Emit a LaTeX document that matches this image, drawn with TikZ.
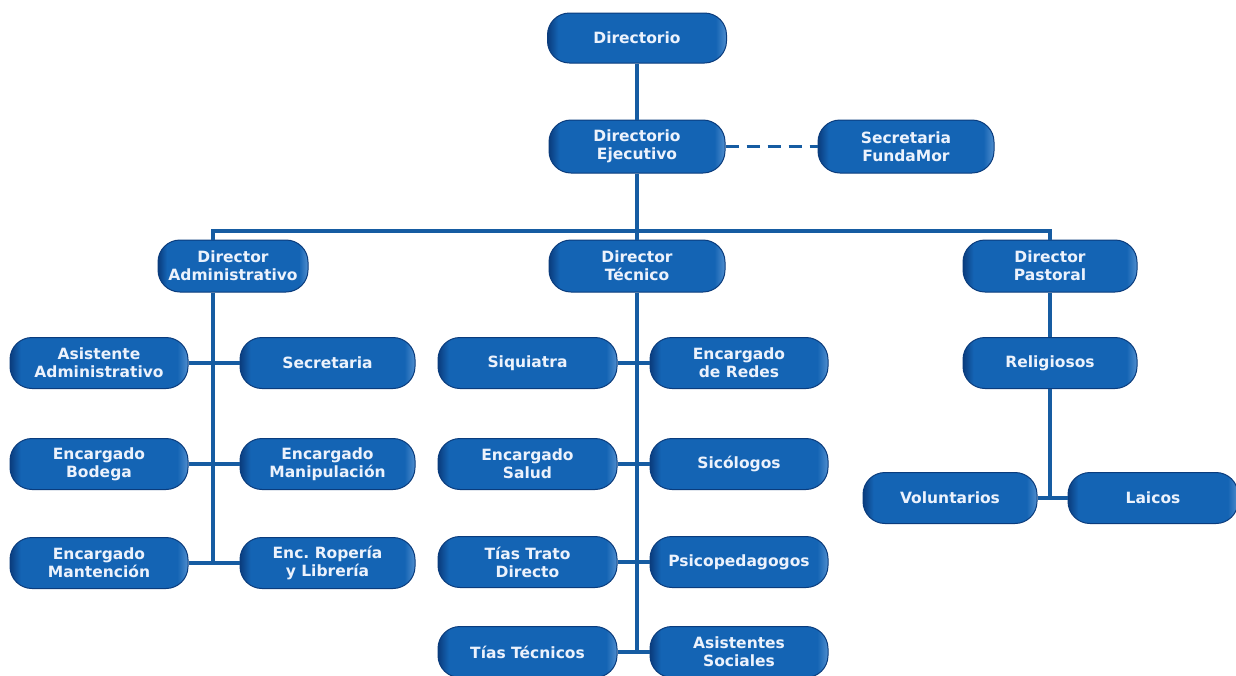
\documentclass[tikz,border=0pt]{standalone}
\usepackage{fontspec}
\setmainfont{DejaVu Sans}
\frenchspacing
\definecolor{boxblue}{RGB}{20,100,180}
\definecolor{boxdark}{RGB}{10,60,125}
\definecolor{boxlight}{RGB}{80,142,206}
\definecolor{linecol}{RGB}{22,92,162}
\definecolor{txtcol}{RGB}{236,242,252}
\pgfdeclarehorizontalshading{boxshade}{100bp}{color(0bp)=(boxdark); color(25bp)=(boxdark); color(28bp)=(boxblue); color(72bp)=(boxblue); color(75bp)=(boxlight); color(100bp)=(boxlight)}
\tikzset{
  ob/.style={rounded corners=22pt, shading=boxshade, draw=boxdark, line width=1pt,
    minimum width=176pt, minimum height=51pt, inner sep=0pt, align=center,
    text=txtcol, font=\fontsize{15.5}{18}\selectfont\bfseries},
  conn/.style={draw=linecol, line width=3.2pt},
}
\begin{document}
\begin{tikzpicture}[x=1pt,y=-1pt]
\useasboundingbox[fill=white] (0,0) rectangle (1236,675);
\coordinate (busL) at (213,231);
\coordinate (busR) at (1050,231);
% nodes
\node[ob, minimum width=179pt, minimum height=50pt] (dir) at (637,38) {Directorio};
\node[ob, minimum height=53pt] (dej) at (637,146.5) {Directorio\\Ejecutivo};
\node[ob, minimum height=53pt] (sfm) at (906,146.5) {Secretaria\\FundaMor};
\node[ob, minimum width=150pt, minimum height=52pt] (dadm) at (233,266) {Director\\Administrativo};
\node[ob, minimum height=52pt] (dtec) at (637,266) {Director\\Técnico};
\node[ob, minimum width=174pt, minimum height=52pt] (dpas) at (1050,266) {Director\\Pastoral};
% administrative
\node[ob, minimum width=178pt] (a1L) at (99,363) {Asistente\\Administrativo};
\node[ob, minimum width=175pt] (a1R) at (327.5,363) {Secretaria};
\node[ob, minimum width=178pt] (a2L) at (99,464) {Encargado\\Bodega};
\node[ob, minimum width=175pt] (a2R) at (327.5,464) {Encargado\\Manipulación};
\node[ob, minimum width=178pt] (a3L) at (99,563) {Encargado\\Mantención};
\node[ob, minimum width=175pt] (a3R) at (327.5,563) {Enc. Ropería\\y Librería};
% technical
\node[ob, minimum width=179pt] (t1L) at (527.5,363) {Siquiatra};
\node[ob, minimum width=178pt] (t1R) at (739,363) {Encargado\\de Redes};
\node[ob, minimum width=179pt] (t2L) at (527.5,464) {Encargado\\Salud};
\node[ob, minimum width=178pt] (t2R) at (739,464) {Sicólogos};
\node[ob, minimum width=179pt] (t3L) at (527.5,562) {Tías Trato\\Directo};
\node[ob, minimum width=178pt] (t3R) at (739,562) {Psicopedagogos};
\node[ob, minimum width=179pt] (t4L) at (527.5,652) {Tías Técnicos};
\node[ob, minimum width=178pt] (t4R) at (739,652) {Asistentes\\Sociales};
% pastoral
\node[ob, minimum width=174pt] (rel) at (1050,363) {Religiosos};
\node[ob, minimum width=174pt] (vol) at (950,498) {Voluntarios};
\node[ob, minimum width=170pt] (lai) at (1153,498) {Laicos};
% connectors
\draw[conn] (dir) -- (dej);
\draw[conn, dash pattern=on 13pt off 8pt] (dej) -- (sfm);
\draw[conn] (dej.south) -- (dej.south |- busL);
\draw[conn] (busL |- dadm.north) -- (busL) -- (busR) -- (dpas.north);
\draw[conn] (dej.south |- busL) -- (dtec.north);
\draw[conn] (busL |- dadm.south) -- (busL |- a3L.east);
\draw[conn] (a1L) -- (a1R);
\draw[conn] (a2L) -- (a2R);
\draw[conn] (a3L) -- (a3R);
\draw[conn] (dtec.south) -- (dtec.south |- t4L.east);
\draw[conn] (t1L) -- (t1R);
\draw[conn] (t2L) -- (t2R);
\draw[conn] (t3L) -- (t3R);
\draw[conn] (t4L) -- (t4R);
\draw[conn] (dpas) -- (rel);
\draw[conn] (rel.south) -- (rel.south |- vol.east);
\draw[conn] (vol) -- (lai);
\end{tikzpicture}
\end{document}
